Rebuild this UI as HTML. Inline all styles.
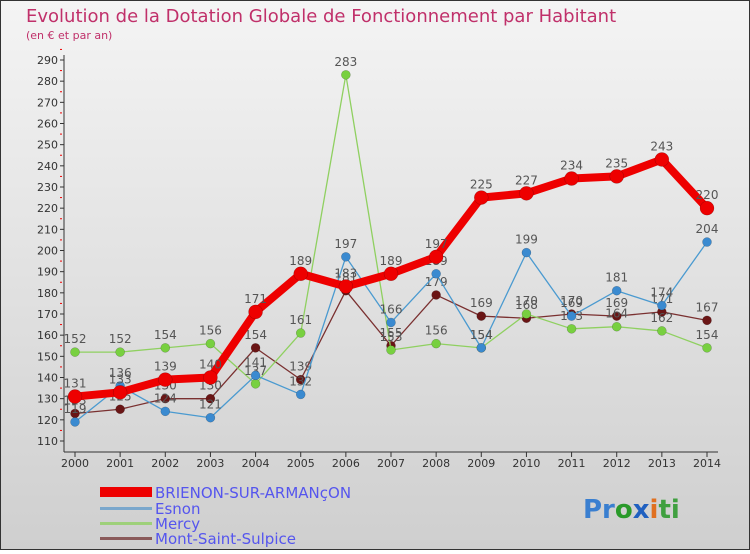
<!DOCTYPE html>
<html><head><meta charset="utf-8"><style>
body{margin:0;width:750px;height:550px;overflow:hidden;font-family:"DejaVu Sans","Liberation Sans",sans-serif}
</style></head><body>
<svg id="chart" width="750" height="550" xmlns="http://www.w3.org/2000/svg">
<defs><linearGradient id="bg" x1="0" y1="0" x2="0" y2="1"><stop offset="0" stop-color="#f4f4f4"/><stop offset="1" stop-color="#cfcfcf"/></linearGradient></defs>
<rect x="0.5" y="0.5" width="749" height="549" fill="url(#bg)" stroke="#333"/>
<text x="26" y="22" font-size="18" fill="#c0306a">Evolution de la Dotation Globale de Fonctionnement par Habitant</text>
<text x="26" y="39" font-size="11" fill="#c0306a">(en € et par an)</text>
<g id="axes"></g><g id="series"></g>
<g>
<rect x="100" y="487" width="52" height="10" fill="#ee0000"/>
<text x="155" y="498" font-size="15" fill="#5555ee">BRIENON-SUR-ARMANçON</text>
<rect x="100" y="507" width="52" height="3" fill="#7aa7cc"/>
<text x="155" y="514" font-size="15" fill="#5555ee">Esnon</text>
<rect x="100" y="522" width="52" height="3" fill="#9ed07a"/>
<text x="155" y="529" font-size="15" fill="#5555ee">Mercy</text>
<rect x="100" y="537" width="52" height="3" fill="#8a5a5a"/>
<text x="155" y="544" font-size="15" fill="#5555ee">Mont-Saint-Sulpice</text>
</g>
<text x="583" y="518" font-size="26" font-weight="bold"><tspan fill="#3a7fd0">Pr</tspan><tspan fill="#2a9a2a">o</tspan><tspan fill="#2060c0">x</tspan><tspan fill="#e07020">i</tspan><tspan fill="#40a040">ti</tspan></text>
</svg>
<script>
const years=[2000,2001,2002,2003,2004,2005,2006,2007,2008,2009,2010,2011,2012,2013,2014];
const brienon=[131,133,139,140,171,189,183,189,197,225,227,234,235,243,220];
const esnon=[119,136,124,121,141,132,197,166,189,154,199,169,181,174,204];
const mercy=[152,152,154,156,137,161,283,153,156,154,170,163,164,162,154];
const mont=[123,125,130,130,154,139,181,155,179,169,168,170,169,171,167];
const yTicks=[110,120,130,140,150,160,170,180,190,200,210,220,230,240,250,260,270,280,290];
const NS="http://www.w3.org/2000/svg";
const x=i=>75+i*(707-75)/(years.length-1);
const y=v=>441-(v-110)*(381/180);
function mk(t,a,p){const e=document.createElementNS(NS,t);for(const k in a)e.setAttribute(k,a[k]);p.appendChild(e);return e;}
const ax=document.getElementById('axes');
let l=mk('line',{x1:64,y1:55,x2:64,y2:452,stroke:'#333'},ax);


l=mk('line',{x1:64,y1:452,x2:718,y2:452,stroke:'#333'},ax);


yTicks.forEach(v=>{
 const t=mk('text',{x:58,y:y(v)+4,'font-size':11,fill:'#333','text-anchor':'end'},ax);t.textContent=v;
 
 
 mk('line',{x1:60,y1:y(v),x2:64,y2:y(v),stroke:'#333'},ax);
 mk('line',{x1:60,y1:y(v+5),x2:62,y2:y(v+5),stroke:'#e00'},ax);
});
years.forEach((yr,i)=>{
 mk('line',{x1:x(i),y1:452,x2:x(i),y2:457,stroke:'#333'},ax);
 const t=mk('text',{x:x(i),y:467,'font-size':11,fill:'#333','text-anchor':'middle'},ax);t.textContent=yr;
 
 
});
const sg=document.getElementById('series');
function draw(name,data,color,w,r,dot){
 const g=mk('g',{},sg);
 
 
 const p=mk('polyline',{points:data.map((v,i)=>x(i)+','+y(v)).join(' '),fill:'none',stroke:color,'stroke-width':w,'stroke-linejoin':'round'},g);
 
 
 data.forEach((v,i)=>{
  const c=mk('circle',{cx:x(i),cy:y(v),r:r,fill:dot,stroke:'rgba(0,0,0,0.3)','stroke-width':0.5},g);
  
  
  const t=mk('text',{x:x(i),y:y(v)-9,'font-size':12,fill:'#555','text-anchor':'middle'},g);t.textContent=v;
  
  
 });
}
draw('mont',mont,'#7a3030',1.3,4.5,'#6a1515');
draw('mercy',mercy,'#8fd060',1.3,4.5,'#78d040');
draw('esnon',esnon,'#4a9ad0',1.3,4.5,'#3a8ad0');
draw('brienon',brienon,'#ee0000',8,7,'#ee0000');
</script>
</body></html>
